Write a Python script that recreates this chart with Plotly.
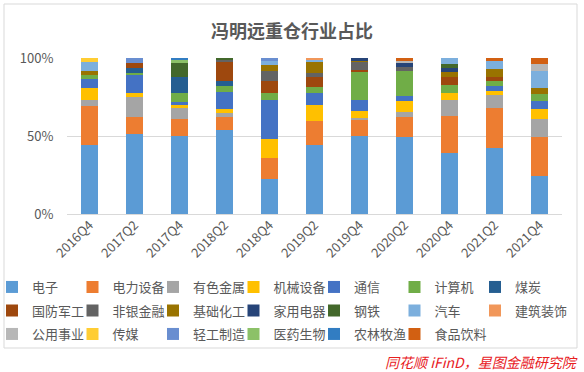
import plotly.graph_objects as go

quarters = ["2016Q4", "2017Q2", "2017Q4", "2018Q2", "2018Q4", "2019Q2",
            "2019Q4", "2020Q2", "2020Q4", "2021Q2", "2021Q4"]

industries = ["电子", "电力设备", "有色金属", "机械设备", "通信", "计算机", "煤炭",
              "国防军工", "非银金融", "基础化工", "家用电器", "钢铁", "汽车", "建筑装饰",
              "公用事业", "传媒", "轻工制造", "医药生物", "农林牧渔", "食品饮料"]

colors = ["#5B9BD5", "#ED7D31", "#A5A5A5", "#FFC000", "#4472C4", "#70AD47", "#255E91",
          "#9E480E", "#636363", "#997300", "#264478", "#43682B", "#7CAFDD", "#F1975A",
          "#B7B7B7", "#FFCD33", "#698ED0", "#8CC168", "#327DC2", "#D26012"]

# share (%) per quarter, in quarter order
s_dianzi   = [44.0, 51.3, 50.0, 53.8, 22.4, 44.4, 50.0, 49.1, 38.9, 42.3, 24.6]
s_dianli   = [25.0, 11.1, 10.9,  8.2, 13.5, 15.4, 10.5, 12.9, 24.1, 25.4, 24.5]
s_youse    = [ 3.8, 12.4,  7.0,  2.5,  0.0,  0.0,  1.0,  3.2, 10.3,  8.6, 11.8]
s_jixie    = [ 7.9,  2.8,  2.2,  2.8, 12.2, 10.1,  4.3,  7.0,  4.3,  2.8,  6.4]
s_tongxin  = [ 5.8, 11.7,  1.5, 11.1, 25.0,  7.7,  7.3,  3.2,  0.0,  3.2,  5.3]
s_jisuanji = [ 2.6,  1.0,  5.8,  3.7,  4.5,  4.1, 18.4, 16.5,  5.3,  3.2,  4.3]
s_meitan   = [ 0.0,  3.2, 10.2,  3.4,  0.0,  0.0,  0.0,  0.0,  0.0,  0.0,  0.0]
s_guofang  = [ 0.0,  3.0,  0.0, 12.4,  7.9,  6.4,  0.9,  0.0,  5.1,  2.1,  0.0]
s_feiyin   = [ 0.0,  0.0,  0.0,  0.9,  6.4,  2.1,  5.5,  2.1,  0.0,  0.0,  0.0]
s_jichu    = [ 2.3,  0.0,  0.0,  0.0,  3.6,  7.1,  0.4,  0.0,  2.8,  5.3,  3.9]
s_jiadian  = [ 0.0,  0.0,  0.0,  0.0,  0.0,  0.0,  1.7,  2.6,  2.8,  0.0,  0.0]
s_gangtie  = [ 0.0,  0.0,  9.2,  1.2,  0.0,  0.0,  0.0,  0.0,  2.6,  0.0,  0.0]
s_qiche    = [ 5.8,  0.0,  0.0,  0.0,  2.8,  1.9,  0.0,  0.0,  3.8,  5.4, 10.7]
s_jianzhu  = [ 0.0,  0.0,  0.0,  0.0,  0.0,  0.9,  0.0,  0.0,  0.0,  0.0,  0.0]
s_gongyong = [ 0.0,  0.0,  0.0,  0.0,  0.0,  0.0,  0.0,  1.7,  0.0,  0.0,  4.7]
s_chuanmei = [ 2.8,  0.0,  0.0,  0.0,  0.0,  0.0,  0.0,  0.0,  0.0,  0.0,  0.0]
s_qinggong = [ 0.0,  3.4,  0.0,  0.0,  1.7,  0.0,  0.0,  0.0,  0.0,  0.0,  0.0]
s_yiyao    = [ 0.0,  0.0,  1.9,  0.0,  0.0,  0.0,  0.0,  0.0,  0.0,  0.0,  0.0]
s_nonglin  = [ 0.0,  0.0,  1.3,  0.0,  0.0,  0.0,  0.0,  0.0,  0.0,  0.0,  0.0]
s_shipin   = [ 0.0,  0.0,  0.0,  0.0,  0.0,  0.0,  0.0,  1.7,  0.0,  1.7,  3.8]

series = [s_dianzi, s_dianli, s_youse, s_jixie, s_tongxin, s_jisuanji, s_meitan,
          s_guofang, s_feiyin, s_jichu, s_jiadian, s_gangtie, s_qiche, s_jianzhu,
          s_gongyong, s_chuanmei, s_qinggong, s_yiyao, s_nonglin, s_shipin]

FONT = "Noto Sans CJK SC"
TXT = "#595959"

# plot area: x 67..562, y 58..214 (px)
L, R, T, B = 67, 22, 58, 158
W, H = 584, 372
pw, ph = W - L - R, H - T - B

def px_x(p):
    return (p - L) / pw

def px_y(p):
    return (H - B - p) / ph

ROW_Y = [287, 310.5, 334]
PER_ROW = 7
COL_STEP = 80.5
LEG_X0 = -8


def legend_id(k):
    return "legend" if k == 1 else f"legend{k}"


leg_base = dict(orientation="h", xanchor="left", yanchor="middle",
                font=dict(family=FONT, size=13, color=TXT),
                bgcolor="rgba(0,0,0,0)", borderwidth=0, itemclick=False)

fig = go.Figure()
legends = {}
for i, (name, vals, col) in enumerate(zip(industries, series, colors)):
    row, c = divmod(i, PER_ROW)
    lid = legend_id(i + 1)
    fig.add_trace(go.Bar(
        x=quarters, y=[v / 100 for v in vals], name=name,
        marker=dict(color=col, line=dict(width=0)),
        legend=lid, showlegend=True,
    ))
    legends[lid] = dict(x=px_x(LEG_X0 + c * COL_STEP), y=px_y(ROW_Y[row]),
                        visible=True, **leg_base)

fig.update_layout(
    width=W, height=H, showlegend=True,
    barmode="stack", bargap=0.61,
    plot_bgcolor="white", paper_bgcolor="white",
    margin=dict(l=L, r=R, t=T, b=B, autoexpand=False),
    title=dict(text="<b>冯明远重仓行业占比</b>", x=0.5, xref="container", xanchor="center",
               y=1 - 32 / H, yref="container", yanchor="middle",
               font=dict(family=FONT, size=18, color=TXT)),
    font=dict(family=FONT, color=TXT),
    xaxis=dict(tickangle=-45, tickfont=dict(family=FONT, size=13, color=TXT),
               showgrid=False, showline=False, ticks=""),
    yaxis=dict(range=[0, 1], tickvals=[0, 0.5, 1], tickformat=".0%",
               tickfont=dict(family=FONT, size=13, color=TXT),
               showgrid=True, gridcolor="#D9D9D9", gridwidth=1,
               zeroline=True, zerolinecolor="#D9D9D9", zerolinewidth=1,
               ticks="outside", ticklen=10, tickcolor="rgba(0,0,0,0)"),
    shapes=[dict(type="rect", xref="paper", yref="paper",
                 x0=px_x(4), x1=px_x(577), y0=px_y(348), y1=px_y(4),
                 line=dict(color="#D9D9D9", width=1), fillcolor="rgba(0,0,0,0)",
                 layer="below")],
    annotations=[dict(text="<i>同花顺 iFinD，星图金融研究院</i>", xref="paper", yref="paper",
                      x=px_x(580), y=px_y(362), xanchor="right", yanchor="middle",
                      showarrow=False, font=dict(family=FONT, size=14, color="#E8201E"))],
    **legends,
)

fig.write_html("out.html", config={"displayModeBar": False},
               post_script="document.body.style.margin='0';")
